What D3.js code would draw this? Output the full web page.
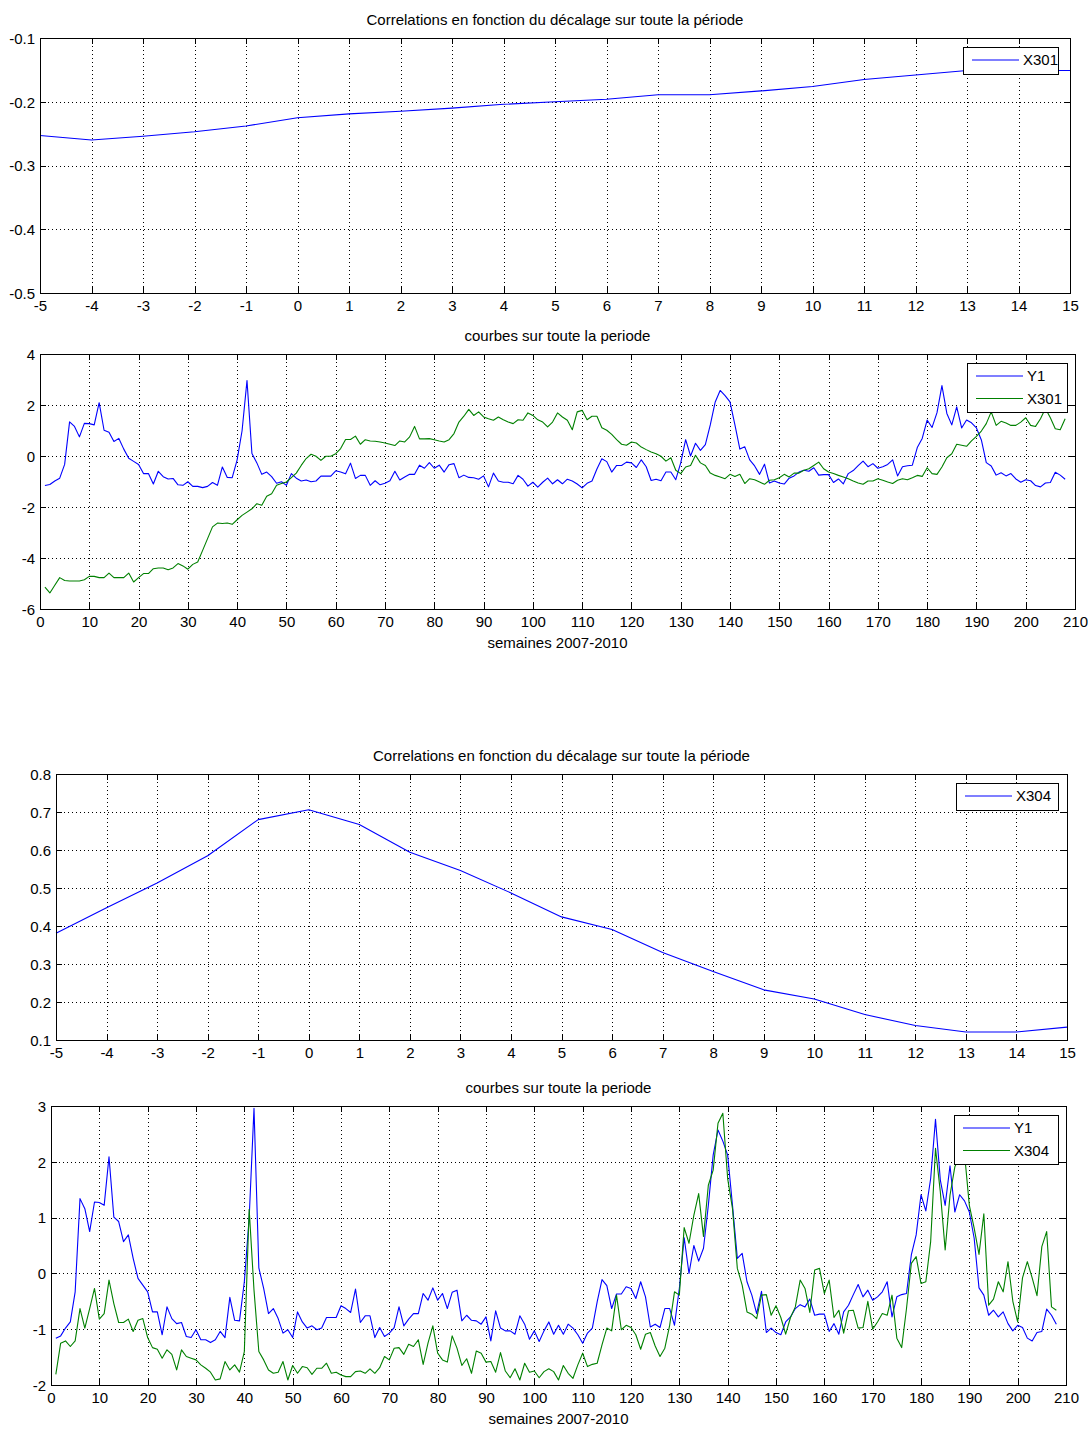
<!DOCTYPE html>
<html>
<head>
<meta charset="utf-8">
<script src="https://cdn.jsdelivr.net/npm/d3@7"></script>
<style>
  html, body { margin: 0; padding: 0; background: #fff; }
  svg { display: block; }
  text { font-family: "Liberation Sans Narrow", "Liberation Sans", Arial, sans-serif; fill: #000; }
</style>
</head>
<body>
<svg id="chart" width="1088" height="1429"></svg>
<script>
// ---------- DATA ----------
const lags = [-5,-4,-3,-2,-1,0,1,2,3,4,5,6,7,8,9,10,11,12,13,14,15];
const corrX301 = [-0.253,-0.260,-0.254,-0.247,-0.238,-0.225,-0.219,-0.215,-0.210,-0.204,-0.200,
                  -0.196,-0.189,-0.189,-0.183,-0.176,-0.165,-0.158,-0.151,-0.151,-0.151];
const corrX304 = [0.381,0.448,0.513,0.585,0.680,0.706,0.667,0.594,0.546,0.487,0.424,
                  0.391,0.330,0.280,0.232,0.208,0.167,0.138,0.121,0.121,0.134];

const Y1 = [
 -1.16,-1.12,-0.98,-0.87,-0.33, 1.34, 1.16, 0.75, 1.28, 1.27,
  1.22, 2.09, 1.01, 0.93, 0.57, 0.69, 0.27,-0.09,-0.21,-0.33,
 -0.69,-0.69,-1.10,-0.60,-0.81,-0.90,-0.88,-1.13,-1.15,-1.01,
 -1.19,-1.19,-1.24,-1.19,-1.04,-1.15,-0.43,-0.84,-0.85,-0.15,
  0.99, 2.96, 0.10,-0.27,-0.72,-0.63,-0.81,-1.07,-1.01,-1.15,
 -0.69,-0.87,-0.98,-0.94,-1.01,-0.98,-0.79,-0.79,-0.79,-0.58,
 -0.63,-0.70,-0.28,-0.88,-0.76,-0.76,-1.15,-0.97,-1.13,-1.07,
 -0.97,-0.60,-0.94,-0.82,-0.72,-0.72,-0.36,-0.48,-0.26,-0.48,
 -0.36,-0.63,-0.34,-0.30,-0.85,-0.75,-0.84,-0.85,-0.91,-0.78,
 -1.21,-0.67,-0.98,-1.03,-1.03,-1.09,-0.76,-0.91,-1.18,-1.03,
 -1.22,-1.03,-0.87,-1.09,-0.93,-1.09,-0.91,-0.98,-1.10,-1.25,
 -1.07,-0.98,-0.51,-0.11,-0.22,-0.63,-0.37,-0.37,-0.24,-0.27,
 -0.45,-0.15,-0.42,-0.96,-0.91,-0.97,-0.63,-0.63,-0.93,-0.27,
  0.64, 0.00, 0.50, 0.22, 0.45, 1.22, 2.12, 2.57, 2.37, 2.12,
  1.22, 0.27, 0.36,-0.15,-0.39,-0.72,-0.32,-1.06,-0.98,-1.06,
 -1.10,-0.87,-0.78,-0.63,-0.56,-0.60,-0.46,-0.75,-0.73,-0.73,
 -1.04,-0.90,-1.09,-0.69,-0.57,-0.38,-0.20,-0.42,-0.30,-0.48,
 -0.42,-0.33,-0.15,-0.78,-0.42,-0.38,-0.36, 0.33, 0.69, 1.41,
  1.12, 1.70, 2.76, 1.67, 1.22, 1.93, 1.10, 1.41, 1.30, 1.10,
  0.63,-0.26,-0.39,-0.75,-0.66,-0.78,-0.69,-0.90,-1.03,-0.93,
 -0.97,-1.16,-1.21,-1.06,-1.04,-0.64,-0.75,-0.91
];

const X301 = [
 -5.14,-5.37,-5.07,-4.77,-4.88,-4.90,-4.90,-4.90,-4.85,-4.72,
 -4.72,-4.77,-4.77,-4.59,-4.77,-4.77,-4.77,-4.59,-4.94,-4.77,
 -4.61,-4.61,-4.42,-4.39,-4.39,-4.46,-4.39,-4.22,-4.31,-4.44,
 -4.25,-4.16,-3.70,-3.24,-2.78,-2.63,-2.65,-2.63,-2.68,-2.50,
 -2.33,-2.20,-2.07,-1.87,-1.93,-1.58,-1.48,-1.15,-1.08,-1.02,
 -0.85,-0.67,-0.37,-0.10, 0.07,-0.01,-0.17,-0.01,-0.01, 0.09,
  0.29, 0.65, 0.65, 0.78, 0.46, 0.64, 0.59, 0.58, 0.55, 0.51,
  0.46, 0.41, 0.59, 0.55, 0.75, 1.16, 0.67, 0.67, 0.68, 0.64,
  0.59, 0.55, 0.64, 0.88, 1.33, 1.56, 1.83, 1.59, 1.73, 1.53,
  1.46, 1.40, 1.53, 1.42, 1.33, 1.27, 1.42, 1.40, 1.69, 1.59,
  1.42, 1.33, 1.14, 1.33, 1.69, 1.53, 1.40, 1.03, 1.73, 1.79,
  1.42, 1.56, 1.56, 1.11, 1.01, 0.85, 0.64, 0.46, 0.42, 0.55,
  0.51, 0.35, 0.25, 0.16, 0.09,-0.01,-0.20,-0.07,-0.56,-0.69,
 -0.43,-0.37, 0.03,-0.27,-0.37,-0.67,-0.76,-0.82,-0.89,-0.72,
 -0.80,-0.72,-1.08,-0.89,-0.93,-1.02,-1.11,-0.95,-0.93,-0.85,
 -0.72,-0.82,-0.67,-0.67,-0.56,-0.50,-0.37,-0.24,-0.50,-0.63,
 -0.69,-0.76,-0.82,-0.89,-0.98,-1.06,-1.11,-0.98,-0.98,-0.89,
 -0.95,-1.02,-1.08,-0.95,-0.89,-0.93,-0.85,-0.76,-0.80,-0.46,
 -0.69,-0.72,-0.43,-0.07, 0.09, 0.46, 0.42, 0.38, 0.59, 0.77,
  0.98, 1.27, 1.73, 1.20, 1.36, 1.29, 1.20, 1.20, 1.33, 1.50,
  1.20, 1.16, 1.46, 1.86, 1.50, 1.07, 1.03, 1.46
];

const X304 = [
 -1.81,-1.25,-1.21,-1.31,-1.21,-0.63,-0.98,-0.63,-0.27,-0.82,
 -0.72,-0.12,-0.54,-0.88,-0.88,-0.82,-1.04,-0.84,-0.81,-1.15,
 -1.33,-1.36,-1.52,-1.37,-1.45,-1.73,-1.37,-1.49,-1.52,-1.55,
 -1.64,-1.70,-1.77,-1.91,-1.89,-1.58,-1.73,-1.64,-1.77,-1.40,
  1.15,-0.30,-1.40,-1.55,-1.73,-1.79,-1.77,-1.58,-1.91,-1.65,
 -1.79,-1.67,-1.69,-1.81,-1.70,-1.70,-1.61,-1.79,-1.77,-1.82,
 -1.85,-1.85,-1.76,-1.75,-1.79,-1.71,-1.79,-1.69,-1.49,-1.55,
 -1.34,-1.33,-1.45,-1.27,-1.31,-1.19,-1.63,-1.25,-0.94,-1.43,
 -1.55,-1.59,-1.12,-1.34,-1.65,-1.53,-1.79,-1.39,-1.43,-1.59,
 -1.58,-1.77,-1.42,-1.75,-1.87,-1.71,-1.91,-1.61,-1.77,-1.75,
 -1.87,-1.76,-1.71,-1.76,-1.91,-1.65,-1.79,-1.88,-1.64,-1.43,
 -1.67,-1.63,-1.61,-1.28,-0.98,-1.03,-0.39,-1.01,-0.93,-0.97,
 -1.10,-1.36,-1.09,-1.06,-1.30,-1.49,-1.34,-0.93,-0.33,-0.39,
  0.82, 0.54, 1.04, 1.43, 0.66, 1.58, 1.85, 2.69, 2.87, 1.70,
  1.16, 0.09,-0.21,-0.69,-0.73,-0.81,-0.39,-0.38,-0.75,-0.58,
 -0.79,-1.09,-0.79,-0.60,-0.12,-0.27,-0.70, 0.06, 0.09,-0.36,
 -0.12,-0.79,-0.66,-1.07,-0.67,-0.66,-0.98,-0.97,-0.50,-1.00,
 -0.87,-0.72,-0.75,-0.39,-1.16,-1.33,-0.63, 0.18, 0.30,-0.18,
 -0.15, 0.57, 2.24, 1.46, 0.42, 1.40, 1.91, 2.09, 2.15, 1.22,
  0.81, 0.34, 1.07,-0.57,-0.46,-0.15,-0.33, 0.21,-0.50,-0.87,
 -0.08, 0.21,-0.08,-0.40, 0.48, 0.75,-0.60,-0.66
];

const weeks = Y1.map((_, i) => i + 1);

const lagTicks = lags;
const weekTicks = [0,10,20,30,40,50,60,70,80,90,100,110,120,130,140,150,160,170,180,190,200,210];
const ticksP1 = [-0.5,-0.4,-0.3,-0.2,-0.1];
const ticksP2 = [-6,-4,-2,0,2,4];
const ticksP3 = [0.1,0.2,0.3,0.4,0.5,0.6,0.7,0.8];
const ticksP4 = [-2,-1,0,1,2,3];

const titleCorr = "Correlations en fonction du décalage sur toute la période";
const titleCurves = "courbes sur toute la periode";
const xLabelWeeks = "semaines 2007-2010";

// ---------- STYLE / LAYOUT ----------
const BLUE = "#0000ff", GREEN = "#008000";
const FS = 15;
const FONT = "'Liberation Sans Narrow','Liberation Sans',Arial,sans-serif";
const svg = d3.select("#chart");

function fmt(v){ return String(+v.toFixed(1)); }

function panel(cfg) {
  const g = svg.append("g");
  const x = d3.scaleLinear().domain(cfg.xDomain).range([cfg.left, cfg.right]);
  const y = d3.scaleLinear().domain(cfg.yDomain).range([cfg.bottom, cfg.top]);

  // grid
  const grid = g.append("g").attr("stroke", "#000").attr("stroke-width", 1)
    .attr("stroke-dasharray", "1,3").attr("shape-rendering", "crispEdges");
  cfg.xTicks.slice(1, -1).forEach(t => {
    grid.append("line").attr("x1", Math.round(x(t)) + 0.5).attr("x2", Math.round(x(t)) + 0.5)
      .attr("y1", cfg.top).attr("y2", cfg.bottom);
  });
  cfg.yTicks.slice(1, -1).forEach(t => {
    grid.append("line").attr("y1", Math.round(y(t)) + 0.5).attr("y2", Math.round(y(t)) + 0.5)
      .attr("x1", cfg.left).attr("x2", cfg.right);
  });

  // series
  const line = d3.line().x((d, i) => x(cfg.xs[i])).y(d => y(d));
  cfg.series.forEach(s => {
    g.append("path").datum(s.values).attr("d", line)
      .attr("fill", "none").attr("stroke", s.color).attr("stroke-width", 1.1)
      .attr("stroke-linejoin", "round");
  });

  // axes (ticks inward, MATLAB style)
  const tl = 6;
  const axB = g.append("g").attr("transform", `translate(0,${cfg.bottom})`)
    .call(d3.axisBottom(x).tickValues(cfg.xTicks).tickSize(-tl).tickPadding(7).tickFormat(fmt));
  const axT = g.append("g").attr("transform", `translate(0,${cfg.top})`)
    .call(d3.axisTop(x).tickValues(cfg.xTicks).tickSize(-tl).tickFormat(""));
  const axL = g.append("g").attr("transform", `translate(${cfg.left},0)`)
    .call(d3.axisLeft(y).tickValues(cfg.yTicks).tickSize(-tl).tickPadding(5).tickFormat(fmt));
  const axR = g.append("g").attr("transform", `translate(${cfg.right},0)`)
    .call(d3.axisRight(y).tickValues(cfg.yTicks).tickSize(-tl).tickFormat(""));
  [axB, axT, axL, axR].forEach(a => {
    a.select(".domain").remove();
    a.selectAll("line").attr("stroke", "#000").attr("shape-rendering", "crispEdges");
    a.selectAll("text").attr("font-size", FS).attr("font-family", FONT);
  });
  axL.selectAll("text").attr("dy", "0.35em");

  g.append("rect").attr("x", cfg.left + 0.5).attr("y", cfg.top + 0.5)
    .attr("width", cfg.right - cfg.left).attr("height", cfg.bottom - cfg.top)
    .attr("fill", "none").attr("stroke", "#000").attr("shape-rendering", "crispEdges");

  // title
  g.append("text").attr("x", (cfg.left + cfg.right) / 2).attr("y", cfg.top - 13)
    .attr("text-anchor", "middle").attr("font-size", FS).text(cfg.title);
  if (cfg.xLabel) {
    g.append("text").attr("x", (cfg.left + cfg.right) / 2).attr("y", cfg.bottom + 39)
      .attr("text-anchor", "middle").attr("font-size", FS).text(cfg.xLabel);
  }

  // legend
  const n = cfg.series.length;
  const lw = cfg.legendW, lh = 4 + n * 22.5;
  const lx = cfg.right - cfg.legendInset - lw, ly = cfg.top + 9;
  const lg = g.append("g");
  lg.append("rect").attr("x", lx + 0.5).attr("y", ly + 0.5).attr("width", lw).attr("height", lh)
    .attr("fill", "#fff").attr("stroke", "#000").attr("shape-rendering", "crispEdges");
  cfg.series.forEach((s, i) => {
    const cy = ly + 13 + i * 22.5;
    lg.append("line").attr("x1", lx + 9).attr("x2", lx + 56).attr("y1", cy).attr("y2", cy)
      .attr("stroke", s.color).attr("stroke-width", 1.1);
    lg.append("text").attr("x", lx + 60).attr("y", cy).attr("dy", "0.35em")
      .attr("font-size", FS).text(s.name);
  });
}

panel({ left: 40, right: 1070, top: 38, bottom: 293,
  xDomain: [-5, 15], yDomain: [-0.5, -0.1], xTicks: lagTicks, yTicks: ticksP1,
  xs: lags, series: [{ name: "X301", values: corrX301, color: BLUE }],
  title: titleCorr, legendW: 95, legendInset: 12 });

panel({ left: 40, right: 1075, top: 354, bottom: 609,
  xDomain: [0, 210], yDomain: [-6, 4], xTicks: weekTicks, yTicks: ticksP2,
  xs: weeks, series: [{ name: "Y1", values: Y1, color: BLUE }, { name: "X301", values: X301, color: GREEN }],
  title: titleCurves, xLabel: xLabelWeeks, legendW: 100, legendInset: 8 });

panel({ left: 56, right: 1067, top: 774, bottom: 1040,
  xDomain: [-5, 15], yDomain: [0.1, 0.8], xTicks: lagTicks, yTicks: ticksP3,
  xs: lags, series: [{ name: "X304", values: corrX304, color: BLUE }],
  title: titleCorr, legendW: 102, legendInset: 9 });

panel({ left: 51, right: 1066, top: 1106, bottom: 1385,
  xDomain: [0, 210], yDomain: [-2, 3], xTicks: weekTicks, yTicks: ticksP4,
  xs: weeks, series: [{ name: "Y1", values: Y1, color: BLUE }, { name: "X304", values: X304, color: GREEN }],
  title: titleCurves, xLabel: xLabelWeeks, legendW: 104, legendInset: 8 });
</script>
</body>
</html>
